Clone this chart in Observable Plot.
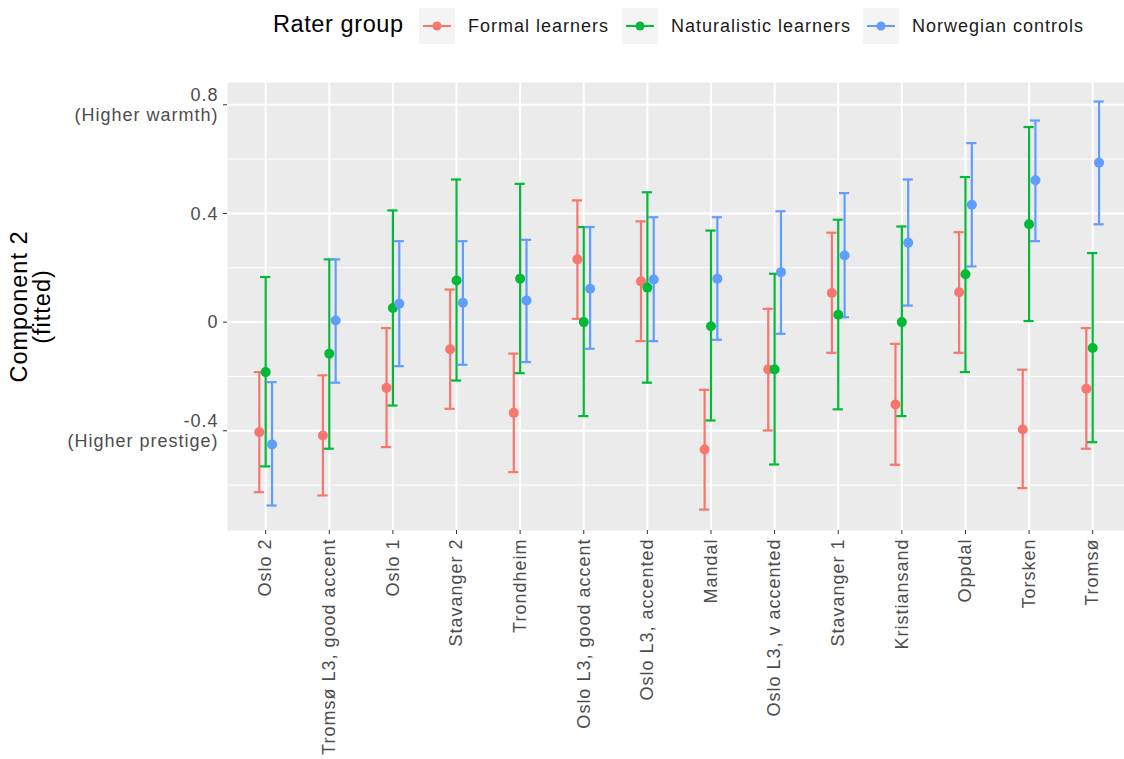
<!DOCTYPE html>
<html>
<head>
<meta charset="utf-8">
<script src="https://cdn.jsdelivr.net/npm/d3@7"></script>
<script src="https://cdn.jsdelivr.net/npm/@observablehq/plot@0.6"></script>
<style>
  html, body { margin: 0; padding: 0; background: #fff; overflow: hidden; }
  body { width: 1124px; height: 759px; position: relative; font-family: "Liberation Sans", Arial, sans-serif; }
  #legend { position: relative; height: 52px; }
  #legend .title { position: absolute; left: 273px; top: 11px; font-size: 23.5px; letter-spacing: 0.6px; color: #000; }
  #legend .item { position: absolute; top: 8px; height: 36px; display: flex; align-items: center; }
  #legend .key { width: 36px; height: 36px; background: #f4f4f4; margin-right: 13px; }
  #legend .lab { font-size: 18px; letter-spacing: 1px; color: #1a1a1a; }
  #chart svg { display: block; overflow: visible; letter-spacing: 1px; }
</style>
</head>
<body>
<div id="legend"></div>
<div id="chart"></div>
<script>
// Speaker categories, ordered by the Norwegian controls' fitted score
const categories = ["Oslo 2", "Tromsø L3, good accent", "Oslo 1", "Stavanger 2", "Trondheim",
  "Oslo L3, good accent", "Oslo L3, accented", "Mandal", "Oslo L3, v accented",
  "Stavanger 1", "Kristiansand", "Oppdal", "Torsken", "Tromsø"];

const groups = ["Formal learners", "Naturalistic learners", "Norwegian controls"];
const groupColors = ["#F8766D", "#00BA38", "#619CFF"];

// Fitted values and 95% interval bounds per rater group
const formalFit = [-0.405, -0.417, -0.242, -0.100, -0.334, 0.231, 0.150, -0.469, -0.174, 0.107, -0.303, 0.110, -0.395, -0.245];
const formalLo  = [-0.626, -0.638, -0.460, -0.319, -0.552, 0.012, -0.070, -0.690, -0.399, -0.113, -0.525, -0.113, -0.611, -0.466];
const formalHi  = [-0.184, -0.196, -0.022, 0.120, -0.116, 0.448, 0.371, -0.249, 0.049, 0.329, -0.080, 0.331, -0.175, -0.022];

const naturalFit = [-0.184, -0.116, 0.052, 0.153, 0.160, 0.000, 0.127, -0.015, -0.174, 0.027, 0.000, 0.176, 0.360, -0.095];
const naturalLo  = [-0.531, -0.466, -0.307, -0.215, -0.188, -0.346, -0.223, -0.362, -0.524, -0.321, -0.346, -0.184, 0.004, -0.442];
const naturalHi  = [0.166, 0.231, 0.411, 0.525, 0.509, 0.350, 0.478, 0.337, 0.178, 0.377, 0.352, 0.534, 0.718, 0.254];

const norwegianFit = [-0.450, 0.006, 0.068, 0.071, 0.080, 0.123, 0.157, 0.160, 0.184, 0.245, 0.292, 0.432, 0.522, 0.587];
const norwegianLo  = [-0.675, -0.223, -0.162, -0.157, -0.147, -0.098, -0.070, -0.065, -0.043, 0.018, 0.061, 0.205, 0.298, 0.360];
const norwegianHi  = [-0.221, 0.231, 0.298, 0.298, 0.303, 0.350, 0.386, 0.386, 0.408, 0.475, 0.525, 0.659, 0.742, 0.812];

// Y axis ticks and their labels
const yMajor = [-0.4, 0, 0.4, 0.8];
const yMinor = [-0.6, -0.2, 0.2, 0.6];
const yTickLabels = ["-0.4\n(Higher prestige)", "0", "0.4", "0.8\n(Higher warmth)"];

// Horizontal dodge of the three rater groups within a category
const dodge = [-0.1, 0, 0.1];
const capHalf = 0.08;

const series = [
  [formalFit, formalLo, formalHi],
  [naturalFit, naturalLo, naturalHi],
  [norwegianFit, norwegianLo, norwegianHi]
];
const rows = [];
series.forEach(([fit, lo, hi], g) => {
  categories.forEach((c, i) => {
    rows.push({category: c, group: groups[g], x: i + dodge[g], fit: fit[i], lo: lo[i], hi: hi[i]});
  });
});

const font = '"Liberation Sans", Arial, sans-serif';
const idx = categories.map((_, i) => i);

const chart = Plot.plot({
  width: 1124,
  height: 707,
  marginLeft: 227,
  marginRight: 0,
  marginTop: 30,
  marginBottom: 229,
  style: {fontFamily: font, background: "transparent", overflow: "visible"},
  x: {type: "linear", domain: [-0.6, 13.5], axis: null},
  y: {domain: [-0.767, 0.882], axis: null},
  color: {domain: groups, range: groupColors},
  marks: [
    Plot.frame({fill: "#EBEBEB", stroke: null}),
    Plot.ruleY(yMinor, {stroke: "#fff", strokeWidth: 1}),
    Plot.ruleY(yMajor, {stroke: "#fff", strokeWidth: 2}),
    Plot.ruleX(idx, {stroke: "#fff", strokeWidth: 2}),
    // error bars
    Plot.ruleX(rows, {x: "x", y1: "lo", y2: "hi", stroke: "group", strokeWidth: 2.2}),
    Plot.ruleY(rows, {y: "lo", x1: d => d.x - capHalf, x2: d => d.x + capHalf, stroke: "group", strokeWidth: 2.2}),
    Plot.ruleY(rows, {y: "hi", x1: d => d.x - capHalf, x2: d => d.x + capHalf, stroke: "group", strokeWidth: 2.2}),
    Plot.dot(rows, {x: "x", y: "fit", fill: "group", r: 5}),
    // axes
    Plot.axisY(yMajor, {
      tickSize: 4, tickPadding: 5, stroke: "#333",
      tickFormat: (d, i) => yTickLabels[i],
      fontSize: 18, fill: "#4D4D4D", label: null, lineHeight: 1.08
    }),
    Plot.axisX(idx, {
      tickSize: 4, tickPadding: 4, stroke: "#333",
      tickFormat: i => categories[i], tickRotate: -90,
      fontSize: 18, fill: "#4D4D4D", label: null
    }),
    Plot.text(["Component 2\n(fitted)"], {
      frameAnchor: "left", dx: -196, rotate: -90, text: d => d, textAnchor: "middle",
      fontSize: 23.5, fill: "#000", lineHeight: 0.95
    })
  ]
});
document.getElementById("chart").appendChild(chart);

// Legend above the plot
const legend = document.getElementById("legend");
const t = document.createElement("div");
t.className = "title";
t.textContent = "Rater group";
legend.appendChild(t);
const itemLeft = [419, 622, 863];
groups.forEach((g, k) => {
  const item = document.createElement("div");
  item.className = "item";
  item.style.left = itemLeft[k] + "px";
  const key = document.createElement("div");
  key.className = "key";
  key.innerHTML = `<svg width="36" height="36"><line x1="4" x2="32" y1="18" y2="18" stroke="${groupColors[k]}" stroke-width="2"/><circle cx="18" cy="18" r="4.5" fill="${groupColors[k]}"/></svg>`;
  const lab = document.createElement("span");
  lab.className = "lab";
  lab.textContent = g;
  item.appendChild(key);
  item.appendChild(lab);
  legend.appendChild(item);
});
</script>
</body>
</html>
